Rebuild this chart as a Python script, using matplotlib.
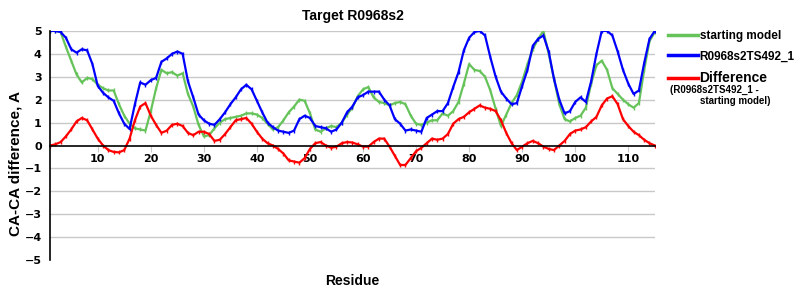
import numpy as np
import matplotlib
matplotlib.use('Agg')
import matplotlib.pyplot as plt

# residue numbers and CA-CA deviations
residues = np.arange(1, 116)

starting_model = [
    5.0, 5.0, 4.95, 4.3, 3.7, 3.1, 2.75, 2.95, 2.9, 2.65,
    2.5, 2.4, 2.4, 1.8, 1.3, 0.95, 0.75, 0.7, 0.65, 1.5,
    2.5, 3.3, 3.15, 3.2, 3.05, 3.15, 2.25, 1.7, 0.9, 0.4,
    0.45, 0.75, 1.0, 1.15, 1.2, 1.25, 1.3, 1.4, 1.4, 1.35,
    1.2, 0.95, 0.7, 0.8, 1.1, 1.45, 1.7, 2.0, 1.95, 1.4,
    0.7, 0.6, 0.75, 0.85, 0.8, 1.0, 1.35, 1.65, 2.15, 2.45,
    2.55, 2.1, 1.9, 1.85, 1.75, 1.85, 1.9, 1.8, 1.3, 0.95,
    0.9, 1.0, 1.1, 1.1, 1.4, 1.3, 1.5, 1.9, 2.7, 3.55,
    3.3, 3.25, 3.0, 2.4, 1.6, 0.85, 1.35, 1.85, 2.2, 2.8,
    3.55, 4.2, 4.65, 5.0, 4.0, 2.9, 1.8, 1.15, 1.05, 1.2,
    1.3, 1.65, 2.7, 3.5, 3.7, 3.3, 2.5, 2.25, 2.0, 1.8,
    1.65, 1.85, 3.3, 4.55, 4.95,
]

model_492 = [
    5.0, 5.0, 4.95, 4.7, 4.2, 4.05, 4.2, 4.15, 3.55, 2.6,
    2.3, 2.1, 1.95, 1.4, 0.95, 0.72, 1.8, 2.75, 2.65, 2.85,
    2.95, 3.65, 3.8, 4.0, 4.1, 4.0, 2.8, 2.1, 1.35, 1.1,
    0.95, 0.9, 1.15, 1.45, 1.8, 2.1, 2.45, 2.65, 2.45, 1.95,
    1.45, 1.0, 0.8, 0.65, 0.6, 0.55, 0.65, 1.15, 1.3, 1.2,
    0.85, 0.8, 0.75, 0.6, 0.7, 1.0, 1.45, 1.7, 2.1, 2.2,
    2.35, 2.35, 2.35, 2.0, 1.75, 1.15, 0.95, 0.65, 0.7, 0.65,
    0.6, 1.2, 1.35, 1.5, 1.5, 1.85, 2.55, 3.2, 4.15, 4.7,
    4.95, 5.0, 4.8, 3.85, 3.0, 2.35, 2.05, 1.8, 1.85, 2.6,
    3.3, 4.35, 4.65, 4.8, 4.1, 2.9, 2.0, 1.4, 1.5, 1.9,
    2.1, 1.9, 2.8, 4.0, 5.0, 5.0, 4.8, 4.1, 3.3, 2.7,
    2.25, 2.4, 3.6, 4.65, 5.0,
]

difference = [
    0.0, 0.05, 0.15, 0.4, 0.7, 1.05, 1.2, 1.1, 0.7, 0.3,
    0.0, -0.2, -0.28, -0.3, -0.2, 0.3, 1.1, 1.7, 1.85, 1.3,
    0.9, 0.55, 0.65, 0.9, 0.95, 0.85, 0.55, 0.45, 0.6, 0.6,
    0.5, 0.2, 0.25, 0.5, 0.8, 1.1, 1.15, 1.2, 0.95, 0.6,
    0.3, 0.1, 0.0, -0.15, -0.35, -0.65, -0.7, -0.75, -0.55, -0.15,
    0.1, 0.15, 0.0, -0.1, -0.05, 0.1, 0.15, 0.13, 0.05, -0.05,
    -0.05, 0.15, 0.3, 0.3, -0.05, -0.45, -0.85, -0.85, -0.55, -0.25,
    -0.1, 0.1, 0.3, 0.25, 0.3, 0.5, 0.95, 1.15, 1.25, 1.45,
    1.6, 1.75, 1.65, 1.6, 1.5, 1.1, 0.55, 0.1, -0.2, -0.05,
    0.1, 0.2, 0.1, -0.05, -0.15, -0.2, 0.0, 0.2, 0.5, 0.65,
    0.7, 0.8, 1.05, 1.25, 1.75, 2.05, 2.15, 1.8, 1.15, 0.85,
    0.6, 0.45, 0.25, 0.1, 0.0,
]

fig = plt.figure(figsize=(8, 3), dpi=100)
ax = fig.add_axes([0.0625, 0.133, 0.756, 0.764])

# horizontal grid (no line at -5, black line at 0)
for y in range(-4, 6):
    if y != 0:
        ax.axhline(y, color='#c8c8c8', linewidth=1, zorder=0)

ax.plot(residues, starting_model, color='#66c35a', linewidth=1.6,
        marker='|', markersize=3, markeredgewidth=1, label='starting model')
ax.plot(residues, model_492, color='#0000ff', linewidth=1.6,
        marker='|', markersize=3, markeredgewidth=1, label='R0968s2TS492_1')
ax.plot(residues, difference, color='#ff0000', linewidth=1.6,
        marker='|', markersize=3, markeredgewidth=1, label='Difference')

ax.set_xlim(1, 115)
ax.set_ylim(-5, 5)
ax.set_yticks(range(-5, 6))
ax.set_xticks(range(10, 111, 10))

ax.spines['top'].set_visible(False)
ax.spines['right'].set_visible(False)
ax.spines['bottom'].set_position(('data', 0))
ax.spines['bottom'].set_linewidth(1.2)
ax.spines['left'].set_linewidth(1.2)
ax.tick_params(axis='y', length=0, labelsize=8, pad=6)
ax.tick_params(axis='x', length=4, color='#c8c8c8', labelsize=8, pad=2)
for lbl in ax.get_xticklabels() + ax.get_yticklabels():
    lbl.set_fontweight('bold')

ax.set_title('Target R0968s2', fontsize=10, fontweight='bold',
             family='Liberation Sans', pad=8)
ax.set_ylabel('CA-CA difference, A', fontsize=11, fontweight='bold',
              family='Liberation Sans')
ax.yaxis.set_label_coords(-0.045, 0.42)
ax.set_xlabel('Residue', fontsize=10, fontweight='bold', family='Liberation Sans')
ax.xaxis.set_label_coords(0.5, -0.06)

leg = ax.legend(loc='upper left', bbox_to_anchor=(0.822, 0.935),
                bbox_transform=fig.transFigure, frameon=False,
                handlelength=2.5, handletextpad=0.15, labelspacing=0.7,
                prop={'family': 'Liberation Sans', 'weight': 'bold', 'size': 8.5})
for line in leg.get_lines():
    line.set_linewidth(2.5)
    line.set_marker('')
leg.get_texts()[2].set_fontsize(10)

fig.text(0.837, 0.700, '(R0968s2TS492_1 -', fontsize=7, fontweight='bold',
         family='Liberation Sans', va='center')
fig.text(0.875, 0.662, 'starting model)', fontsize=7, fontweight='bold',
         family='Liberation Sans', va='center')

fig.savefig('out.png', dpi=100)
